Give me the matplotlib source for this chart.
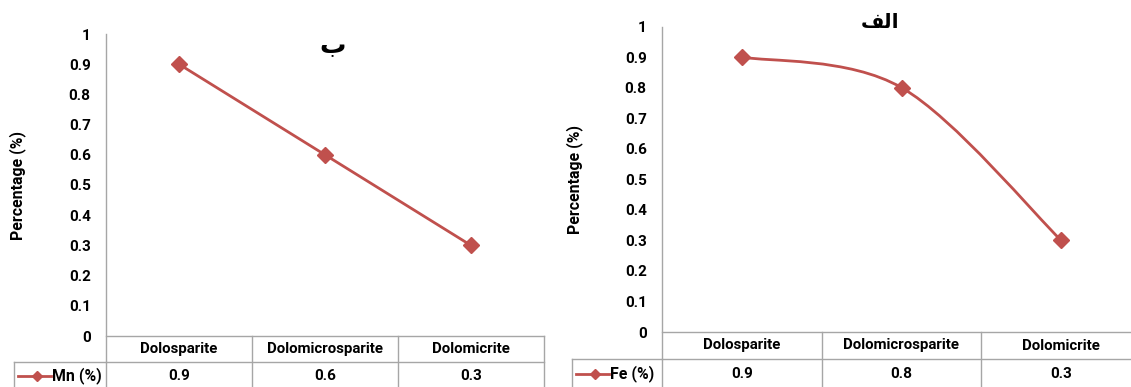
import numpy as np
import matplotlib
matplotlib.use("Agg")
import matplotlib.pyplot as plt
from matplotlib.path import Path
from matplotlib.patches import PathPatch
from matplotlib.lines import Line2D
from matplotlib.transforms import blended_transform_factory

## data
categories = ['Dolosparite', 'Dolomicrosparite', 'Dolomicrite']
mn_values = [0.9, 0.6, 0.3]
fe_values = [0.9, 0.8, 0.3]
mn_label = 'Mn (%)'
fe_label = 'Fe (%)'
ytick_values = [0, 0.1, 0.2, 0.3, 0.4, 0.5, 0.6, 0.7, 0.8, 0.9, 1]
ytick_labels = ['0', '0.1', '0.2', '0.3', '0.4', '0.5', '0.6', '0.7', '0.8', '0.9', '1']
title_left = 'ب'
title_right = 'الف'
ylabel = 'Percentage (%)'

W, H = 1131, 387
red = '#C0504D'
grid_col = '#A6A6A6'
font = 'Roboto'
fs_num = 11
fs_cat = 10.8
fs_lab = 11.4

# matplotlib has no arabic shaping -> presentation forms, visual order
shape_map = {'الف': '\ufed2\ufedf\ufe8d', 'ب': '\ufe8f'}

fig = plt.figure(figsize=(W / 100, H / 100), dpi=100)
overlay = fig.add_axes([0, 0, 1, 1])
overlay.set_xlim(0, W)
overlay.set_ylim(H, 0)
overlay.axis('off')
overlay.set_zorder(5)


def px_axes(x0, x1, ytop, ybot):
    return fig.add_axes([x0 / W, (H - ybot) / H, (x1 - x0) / W, (ybot - ytop) / H])


def catmull(xs, ys):
    # excel style smoothed line as cubic beziers
    pts = np.column_stack([xs, ys]).astype(float)
    verts = [pts[0]]
    codes = [Path.MOVETO]
    n = len(pts)
    for i in range(n - 1):
        p0 = pts[max(i - 1, 0)]
        p1 = pts[i]
        p2 = pts[i + 1]
        p3 = pts[min(i + 2, n - 1)]
        verts += [p1 + (p2 - p0) / 6, p2 - (p3 - p1) / 6, p2]
        codes += [Path.CURVE4] * 3
    return Path(verts, codes)


def chart(x0, x1, ytop, ybot, ylab_xy, leg_x, row_h, vals, label, title, title_xy, tsize, smooth):
    ax = px_axes(x0, x1, ytop, ybot)
    ax.set_xlim(-0.5, 2.5)
    ax.set_ylim(0, 1)
    ax.patch.set_alpha(0)
    for s in ['top', 'right', 'bottom', 'left']:
        ax.spines[s].set_visible(False)
    ax.set_xticks([])
    ax.set_yticks(ytick_values)
    ax.set_yticklabels(ytick_labels, fontfamily=font, fontweight='bold', fontsize=fs_num)
    ax.tick_params(axis='y', length=0, pad=11)

    xs = np.arange(len(categories))
    if smooth:
        ax.add_patch(PathPatch(catmull(xs, vals), fill=False, ec=red, lw=2.0, zorder=3))
        ax.plot(xs, vals, ls='none', marker='D', ms=8, color=red, zorder=4)
    else:
        ax.plot(xs, vals, color=red, lw=2.0, marker='D', ms=8, zorder=3)

    # table drawn in pixel rows under the axis
    tr = blended_transform_factory(ax.transData, overlay.transData)
    y0 = ybot
    y1 = ybot + row_h
    y2 = H + 2
    edges = [-0.5, 0.5, 1.5, 2.5]
    overlay.plot([x0, x0], [ytop, y2], color=grid_col, lw=1)
    for e in edges[1:]:
        overlay.plot([e, e], [y0, y2], color=grid_col, lw=1, transform=tr)
    overlay.plot([-0.5, 2.5], [y0, y0], color=grid_col, lw=1, transform=tr)
    overlay.plot([leg_x, x0], [y1, y1], color=grid_col, lw=1)
    overlay.plot([-0.5, 2.5], [y1, y1], color=grid_col, lw=1, transform=tr)
    overlay.plot([leg_x, leg_x], [y1, y2], color=grid_col, lw=1)
    for i, c in enumerate(categories):
        overlay.text(i, (y0 + y1) / 2, c, transform=tr, ha='center', va='center',
                     fontfamily=font, fontweight='bold', fontsize=fs_cat)
        overlay.text(i, (y1 + H) / 2 + 1, '%g' % vals[i], transform=tr, ha='center',
                     va='center', fontfamily=font, fontweight='bold', fontsize=fs_num)
    ly = (y1 + H) / 2 + 1
    overlay.add_line(Line2D([leg_x + 4, leg_x + 37], [ly, ly], color=red, lw=2.0))
    overlay.plot([leg_x + 23], [ly], marker='D', ms=5, color=red)
    overlay.text(leg_x + 38, ly, label, ha='left', va='center',
                 fontfamily=font, fontweight='bold', fontsize=fs_lab)

    overlay.text(ylab_xy[0], ylab_xy[1], ylabel, rotation=90, ha='center', va='center',
                 fontfamily=font, fontweight='bold', fontsize=fs_lab)
    overlay.text(title_xy[0], title_xy[1], shape_map.get(title, title), ha='center',
                 va='center', fontfamily=['DejaVu Sans'], fontweight='bold', fontsize=tsize)
    return ax


chart(106, 544, 34, 336, (18, 185), 14, 26, mn_values, mn_label, title_left, (333, 46), 19, False)
chart(662, 1141, 26.5, 332, (575, 179), 572, 27, fe_values, fe_label, title_right, (880, 22), 14.5, True)

fig.savefig('out.png', dpi=100)
